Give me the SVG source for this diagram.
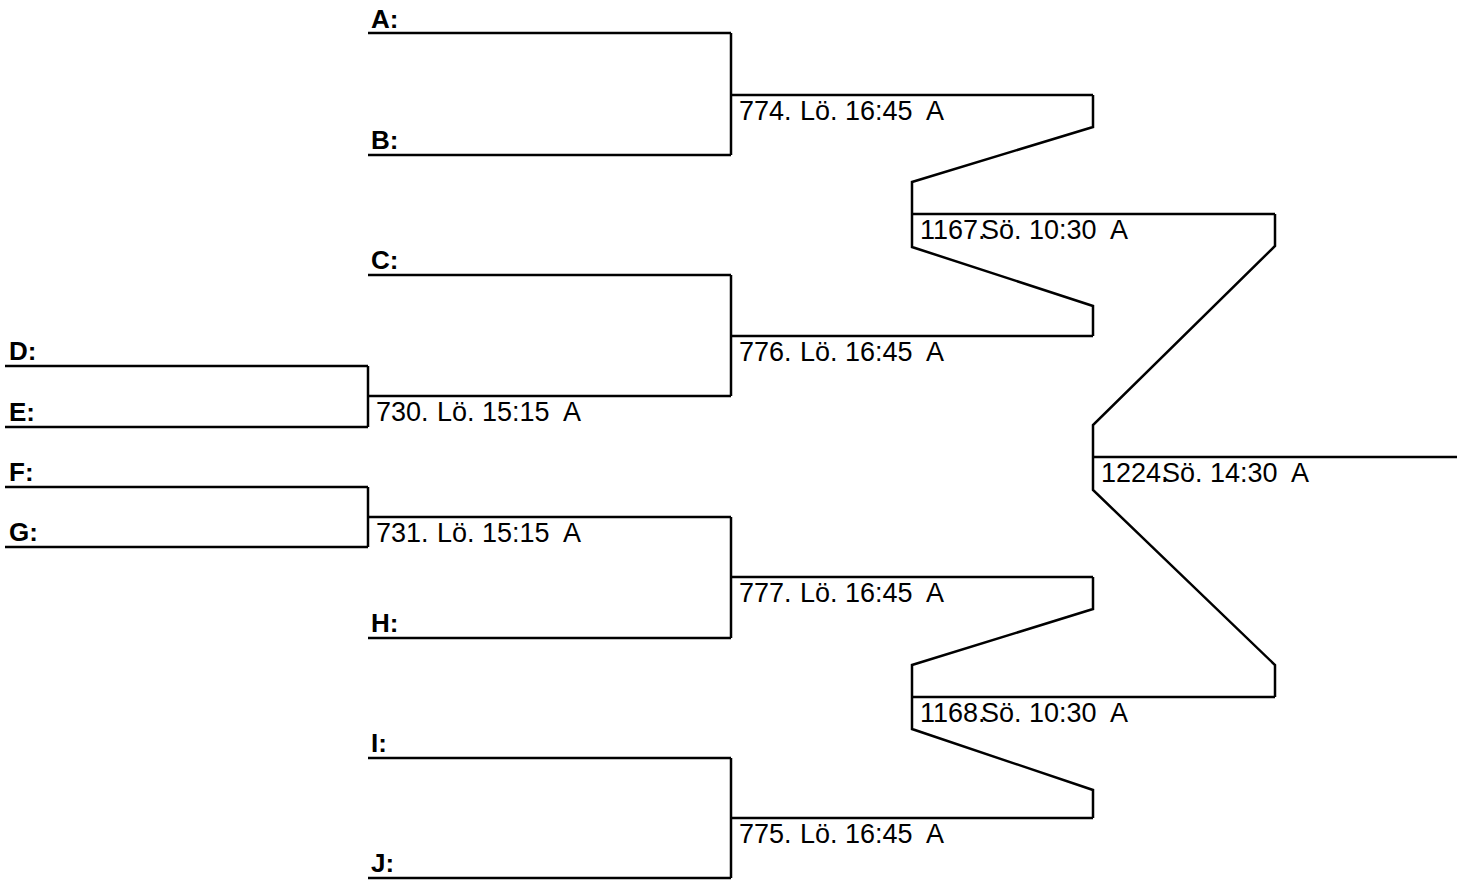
<svg xmlns="http://www.w3.org/2000/svg" width="1466" height="880" viewBox="0 0 1466 880">
<style>
.ln{stroke:#000;stroke-width:2.5;fill:none}
.lbl{font-family:"Liberation Sans",Arial,sans-serif;font-weight:bold;font-size:26px;fill:#000}
.t{font-family:"Liberation Sans",Arial,sans-serif;font-size:27px;fill:#000;white-space:pre}
</style>
<rect width="1466" height="880" fill="#fff"/>
<g id="team-A"><text class="lbl" x="371" y="28">A:</text><path class="ln" d="M368,33H731"/></g>
<g id="team-B"><text class="lbl" x="371" y="149">B:</text><path class="ln" d="M368,155H731"/></g>
<g id="team-C"><text class="lbl" x="371" y="269">C:</text><path class="ln" d="M368,275H731"/></g>
<g id="team-D"><text class="lbl" x="9" y="360">D:</text><path class="ln" d="M5,366H368"/></g>
<g id="team-E"><text class="lbl" x="9" y="421">E:</text><path class="ln" d="M5,427H368"/></g>
<g id="team-F"><text class="lbl" x="9" y="481">F:</text><path class="ln" d="M5,487H368"/></g>
<g id="team-G"><text class="lbl" x="9" y="541">G:</text><path class="ln" d="M5,547H368"/></g>
<g id="team-H"><text class="lbl" x="371" y="632">H:</text><path class="ln" d="M368,638H731"/></g>
<g id="team-I"><text class="lbl" x="371" y="752">I:</text><path class="ln" d="M368,758H731"/></g>
<g id="team-J"><text class="lbl" x="371" y="872">J:</text><path class="ln" d="M368,878H731"/></g>

<g id="match-730"><path class="ln" d="M368,396H731"/><text class="t" x="376" y="421">730.</text><text class="t" x="437" y="421">Lö. 15:15  A</text></g>
<g id="match-731"><path class="ln" d="M368,517H731"/><text class="t" x="376" y="542">731.</text><text class="t" x="437" y="542">Lö. 15:15  A</text></g>
<g id="match-774"><path class="ln" d="M731,95H1093"/><text class="t" x="739" y="120">774.</text><text class="t" x="800" y="120">Lö. 16:45  A</text></g>
<g id="match-776"><path class="ln" d="M731,336H1093"/><text class="t" x="739" y="361">776.</text><text class="t" x="800" y="361">Lö. 16:45  A</text></g>
<g id="match-777"><path class="ln" d="M731,577H1093"/><text class="t" x="739" y="602">777.</text><text class="t" x="800" y="602">Lö. 16:45  A</text></g>
<g id="match-775"><path class="ln" d="M731,818H1093"/><text class="t" x="739" y="843">775.</text><text class="t" x="800" y="843">Lö. 16:45  A</text></g>
<g id="match-1167"><path class="ln" d="M912,214H1275"/><text class="t" x="920" y="239">1167.</text><text class="t" x="981" y="239">Sö. 10:30  A</text></g>
<g id="match-1168"><path class="ln" d="M912,697H1275"/><text class="t" x="920" y="722">1168.</text><text class="t" x="981" y="722">Sö. 10:30  A</text></g>
<g id="match-1224"><path class="ln" d="M1093,457H1457"/><text class="t" x="1101" y="482">1224.</text><text class="t" x="1162" y="482">Sö. 14:30  A</text></g>

<g id="connectors">
<path class="ln" d="M368,366V427"/>
<path class="ln" d="M368,487V547"/>
<path class="ln" d="M731,33V155"/>
<path class="ln" d="M731,275V396"/>
<path class="ln" d="M731,517V638"/>
<path class="ln" d="M731,758V878"/>
<path class="ln" d="M1093,95V127L912,182V247L1093,306V336"/>
<path class="ln" d="M1093,577V609L912,665V729L1093,790V818"/>
<path class="ln" d="M1275,214V246L1093,425V490L1275,665V697"/>
</g>
</svg>
